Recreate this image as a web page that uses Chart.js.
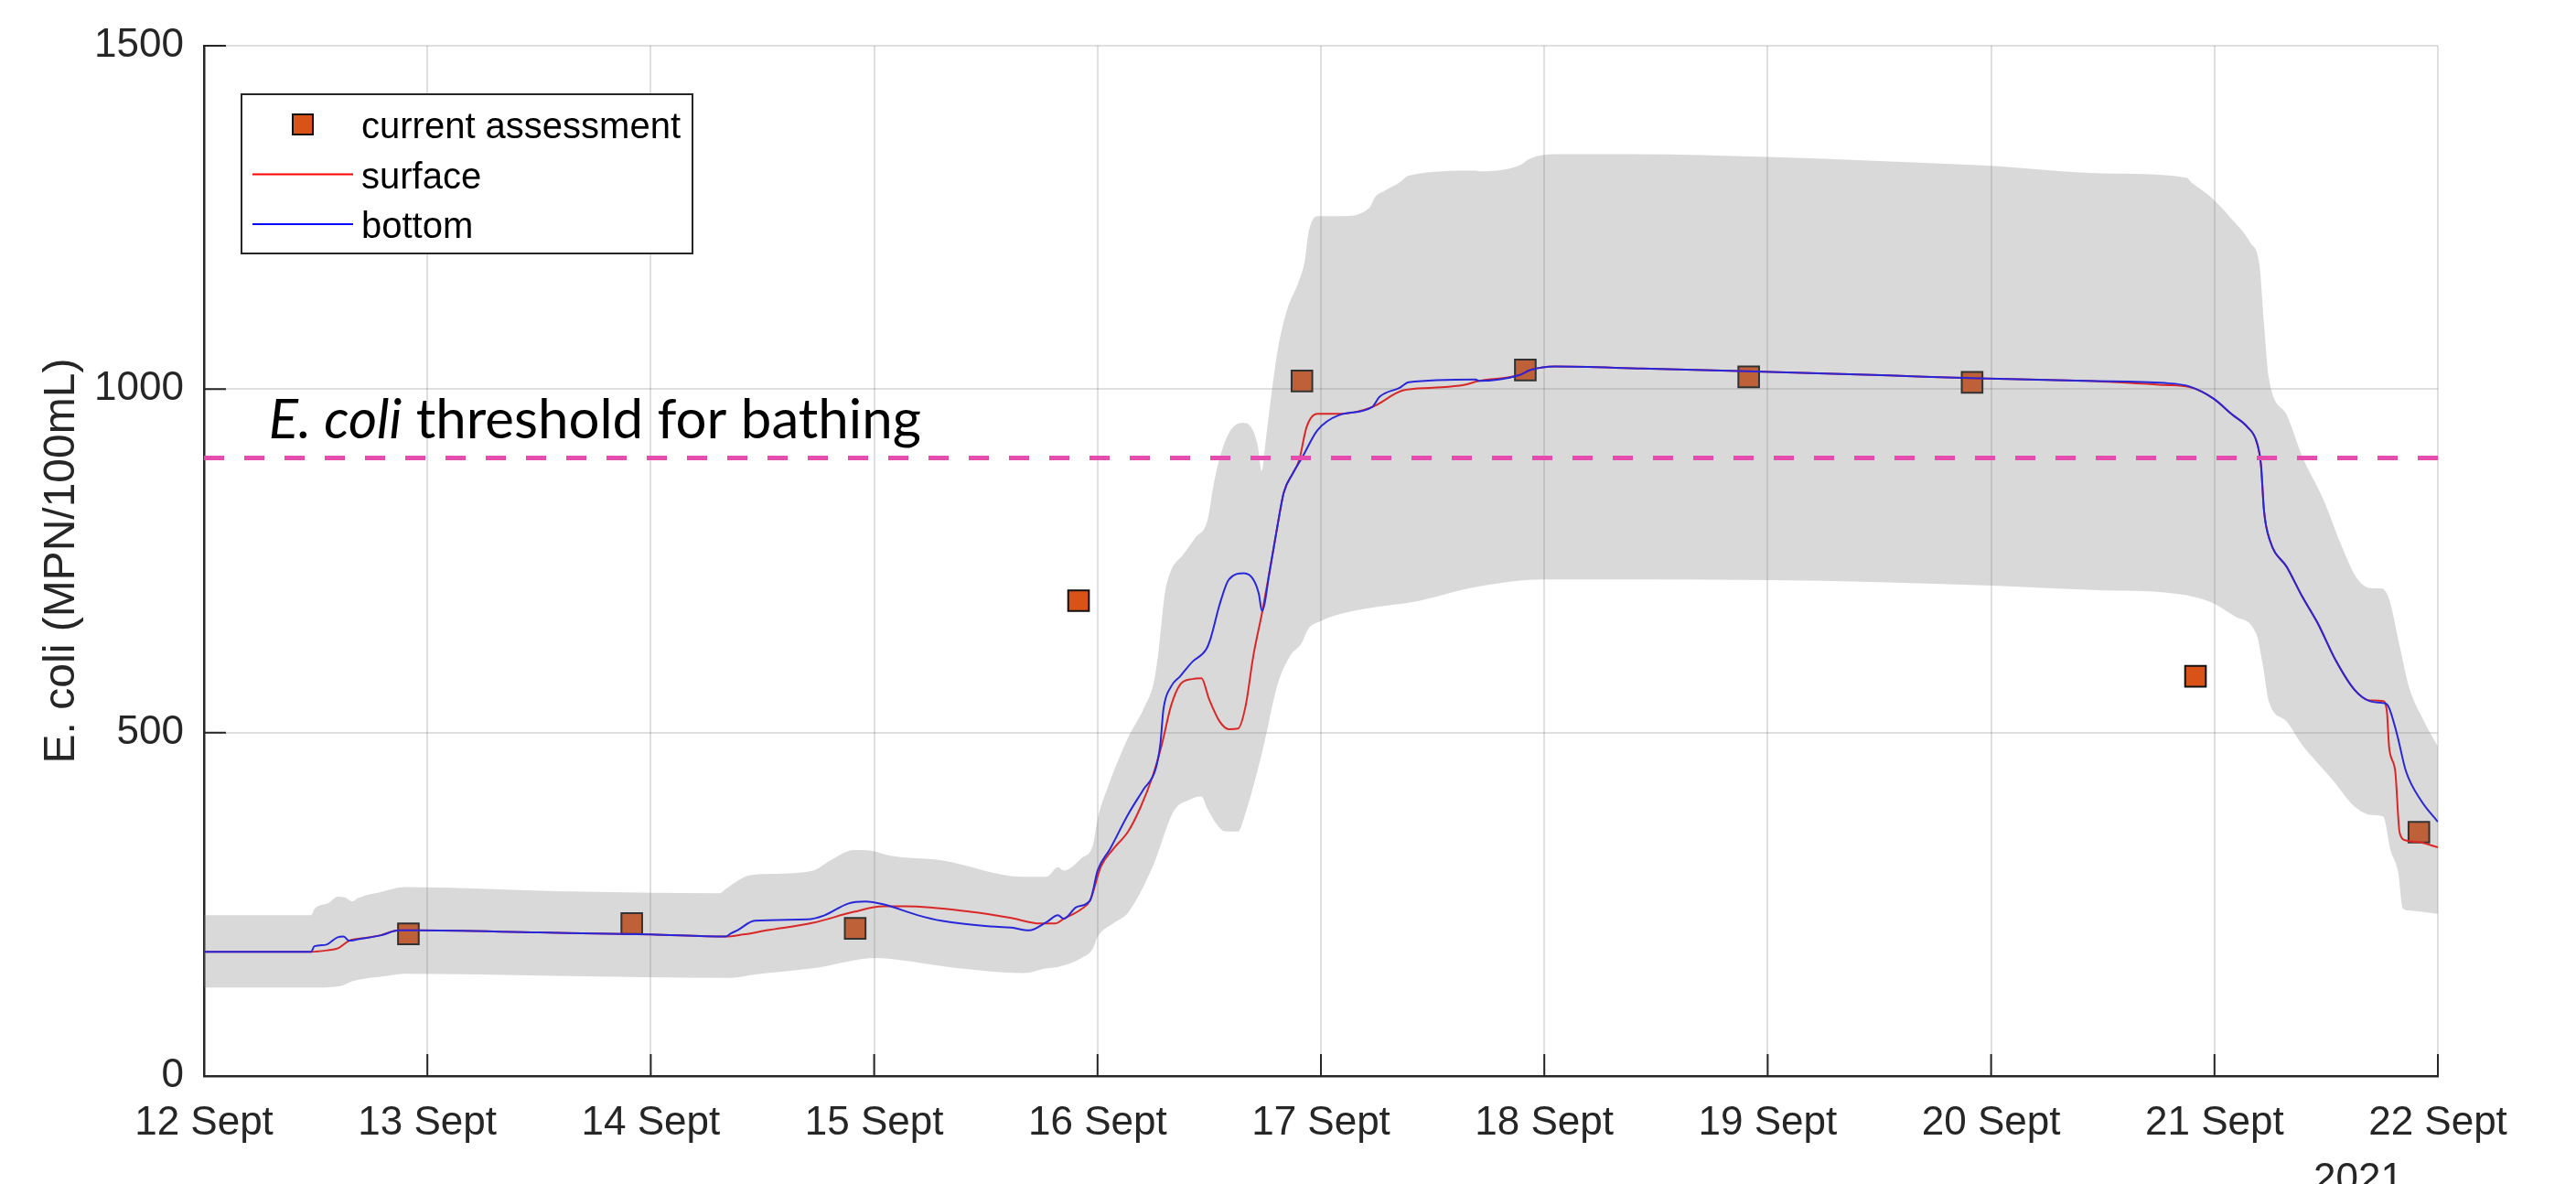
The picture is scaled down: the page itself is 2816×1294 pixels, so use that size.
<!DOCTYPE html>
<html>
<head>
<meta charset="utf-8">
<script src="https://cdn.jsdelivr.net/npm/chart.js@4.4.1/dist/chart.umd.min.js"></script>
<style>
  html, body { margin: 0; padding: 0; background: #fff; overflow: hidden; }
  #wrap { width: 2816px; height: 1294px; position: relative; }
</style>
</head>
<body>
<div id="wrap"><canvas id="chart"></canvas></div>
<script>
// x values are days since 12 Sept 2021 00:00
const dayLabels = ['12 Sept', '13 Sept', '14 Sept', '15 Sept', '16 Sept', '17 Sept',
  '18 Sept', '19 Sept', '20 Sept', '21 Sept', '22 Sept'];
const yearLabel = '2021';
const threshold = 900;

const assessDays = [0.915, 1.915, 2.915, 3.915, 4.915, 5.915, 6.915, 7.915, 8.915, 9.915];
const assessValues = [207, 222, 215, 692, 1012, 1028, 1018, 1010, 582, 355];

const surfaceDays = [0, 0.48, 0.55, 0.6, 0.65, 0.72, 0.79, 0.87, 0.95, 1.5, 2.0, 2.335, 2.413, 2.518,
  2.726, 2.909, 3.04, 3.144, 3.432, 3.614, 3.745, 3.81, 3.849, 3.928, 3.967, 4.015, 4.069, 4.137,
  4.192, 4.247, 4.288, 4.329, 4.37, 4.424, 4.465, 4.499, 4.547, 4.588, 4.629, 4.663, 4.697, 4.738,
  4.772, 4.807, 4.834, 4.875, 4.902, 4.936, 4.984, 5.086, 5.229, 5.366, 5.502, 5.639, 5.707, 5.884,
  5.939, 6.048, 6.44, 6.91, 7.54, 7.91, 8.43, 8.778, 8.888, 8.997, 9.079, 9.147, 9.188, 9.208,
  9.222, 9.249, 9.324, 9.393, 9.461, 9.543, 9.625, 9.693, 9.755, 9.772, 9.782, 9.809, 9.829,
  9.857, 9.925, 10];
const surfaceValues = [181, 181, 183, 186, 197, 201, 205, 212, 212, 209, 206, 203, 206, 212,
  223, 239, 247, 247, 239, 230, 222, 222, 229, 243, 256, 305, 330, 356,
  391, 437, 483, 539, 570, 578, 579, 549, 516, 505, 506, 539, 611, 677,
  738, 804, 850, 878, 896, 945, 964, 964, 974, 998, 1002, 1006, 1012, 1020,
  1028, 1033, 1030, 1026, 1020, 1016, 1012, 1006, 1003, 986, 963, 945, 924, 890,
  822, 779, 741, 698, 660, 605, 563, 547, 546, 530, 478, 444, 354,
  343, 340, 333];

const bottomDays = [0, 0.48, 0.494, 0.545, 0.598, 0.625, 0.65, 0.689, 0.794, 0.872, 0.95, 1.5, 2.0,
  2.335, 2.36, 2.387, 2.465, 2.7, 2.778, 2.883, 2.961, 3.04, 3.197, 3.301, 3.51, 3.614, 3.693,
  3.771, 3.823, 3.849, 3.905, 3.967, 4.001, 4.055, 4.137, 4.205, 4.26, 4.281, 4.295, 4.329, 4.37,
  4.424, 4.486, 4.506, 4.547, 4.588, 4.656, 4.697, 4.722, 4.736, 4.772, 4.807, 4.834, 4.875,
  4.915, 4.984, 5.079, 5.229, 5.263, 5.352, 5.393, 5.693, 5.707, 5.884, 5.939, 6.048, 6.44,
  6.91, 7.54, 7.91, 8.43, 8.778, 8.888, 8.997, 9.079, 9.147, 9.188, 9.208, 9.222, 9.249, 9.324,
  9.393, 9.461, 9.543, 9.625, 9.693, 9.755, 9.775, 9.816, 9.857, 9.925, 10];
const bottomValues = [181, 181, 189, 191, 202, 203, 197, 199, 205, 212, 212, 209, 206,
  203, 208, 212, 226, 228, 234, 251, 254, 250, 234, 226, 218, 216, 212,
  224, 234, 229, 246, 256, 300, 330, 381, 417, 447, 483, 534, 567, 582,
  603, 621, 637, 687, 723, 732, 723, 702, 677, 738, 804, 850, 878,
  900, 940, 962, 974, 989, 1002, 1010, 1014, 1012, 1020, 1028, 1033, 1030,
  1026, 1020, 1016, 1012, 1009, 1004, 986, 963, 945, 924, 890, 822, 779, 741,
  698, 660, 605, 563, 546, 543, 540, 499, 444, 401, 370];

const bandUpperDays = [0, 0.48, 0.494, 0.559, 0.598, 0.637, 0.663, 0.689, 0.794, 0.898, 1.577,
  2.309, 2.335, 2.439, 2.518, 2.726, 2.805, 2.909, 2.988, 3.066, 3.301, 3.667, 3.771, 3.823,
  3.849, 3.928, 3.98, 4.001, 4.042, 4.137, 4.205, 4.253, 4.274, 4.301, 4.329, 4.383, 4.438,
  4.492, 4.52, 4.547, 4.588, 4.649, 4.69, 4.717, 4.735, 4.752, 4.779, 4.806, 4.847, 4.902,
  4.929, 4.943, 4.984, 5.093, 5.216, 5.243, 5.284, 5.352, 5.393, 5.693, 5.707, 5.884, 5.939,
  6.048, 6.4, 7.0, 7.5, 8.0, 8.505, 8.874, 8.901, 8.983, 9.079, 9.161, 9.202, 9.222, 9.243,
  9.324, 9.393, 9.488, 9.57, 9.639, 9.706, 9.747, 9.782, 9.829, 9.87, 9.939, 10];
const bandUpperValues = [234, 234, 243, 252, 261, 259, 254, 259, 268, 275, 269,
  266, 272, 292, 294, 299, 314, 329, 328, 321, 314, 290, 290, 304,
  299, 317, 337, 375, 417, 493, 534, 575, 621, 702, 736, 759, 784,
  809, 862, 900, 936, 951, 943, 918, 881, 923, 994, 1056, 1114, 1158,
  1189, 1225, 1252, 1252, 1264, 1280, 1289, 1301, 1311, 1318, 1317, 1325, 1336,
  1342, 1342, 1338, 1332, 1325, 1314, 1308, 1300, 1280, 1247, 1213, 1179, 1094, 1017,
  962, 902, 839, 771, 724, 710, 710, 694, 626, 567, 516, 480];

const bandLowerDays = [0, 0.507, 0.611, 0.663, 0.82, 0.898, 1.577, 2.361, 2.465, 2.726, 3.013,
  3.092, 3.38, 3.667, 3.771, 3.823, 3.928, 3.98, 4.001, 4.07, 4.137, 4.247, 4.342, 4.41, 4.465,
  4.492, 4.547, 4.574, 4.629, 4.656, 4.738, 4.806, 4.861, 4.915, 4.943, 4.997, 5.079, 5.23,
  5.41, 5.71, 6.0, 7.0, 8.0, 8.505, 8.778, 8.983, 9.092, 9.188, 9.215, 9.243, 9.324, 9.393,
  9.461, 9.529, 9.625, 9.706, 9.755, 9.788, 9.823, 9.843, 9.87, 10];
const bandLowerValues = [129, 129, 131, 138, 146, 149, 146, 143, 148, 157, 172,
  170, 157, 150, 157, 159, 172, 186, 203, 222, 238, 305, 386, 402, 407,
  389, 361, 356, 356, 376, 473, 570, 611, 631, 651, 662, 672, 682,
  690, 713, 723, 722, 714, 707, 704, 690, 669, 643, 601, 546, 516, 482,
  456, 431, 393, 380, 378, 329, 295, 244, 241, 236];

const AXIS = '#262626';
const FONT = '"Liberation Sans", Arial, Helvetica, sans-serif';
const NOTE_FONT = 'Lato, "Open Sans", sans-serif';

function toPoints(xs, ys) {
  return xs.map((x, i) => ({ x, y: ys[i] }));
}

const decor = {
  id: 'decor',
  afterDraw(chart) {
    const { ctx, chartArea: a, scales: { x, y } } = chart;
    ctx.save();

    // inward tick marks
    ctx.strokeStyle = AXIS;
    ctx.lineWidth = 2;
    ctx.beginPath();
    x.ticks.forEach(t => {
      const px = x.getPixelForValue(t.value);
      ctx.moveTo(px, a.bottom);
      ctx.lineTo(px, a.bottom - 24);
    });
    y.ticks.forEach(t => {
      const py = y.getPixelForValue(t.value);
      ctx.moveTo(a.left, py);
      ctx.lineTo(a.left + 24, py);
    });
    ctx.stroke();

    // threshold label
    const tx = x.getPixelForValue(0.29);
    const ty = y.getPixelForValue(threshold) - 21;
    ctx.fillStyle = '#000';
    ctx.textAlign = 'left';
    ctx.textBaseline = 'alphabetic';
    ctx.font = 'italic 60px ' + NOTE_FONT;
    ctx.fillText('E. coli', tx, ty);
    const w = ctx.measureText('E. coli').width;
    ctx.font = '60px ' + NOTE_FONT;
    ctx.fillText(' threshold for bathing', tx + w, ty);

    // year under last tick
    ctx.fillStyle = AXIS;
    ctx.textAlign = 'center';
    ctx.font = '44px ' + FONT;
    ctx.fillText(yearLabel, x.getPixelForValue(10) - 87, 1302);

    // legend box
    const lx = a.left + 41, ly = a.top + 53, lw = 493, lh = 174;
    ctx.fillStyle = '#fff';
    ctx.fillRect(lx, ly, lw, lh);
    ctx.strokeStyle = AXIS;
    ctx.lineWidth = 2;
    ctx.strokeRect(lx, ly, lw, lh);
    ctx.font = '40px ' + FONT;
    ctx.textAlign = 'left';
    ctx.textBaseline = 'middle';
    chart.data.datasets.slice(0, 3).forEach((ds, i) => {
      const cy = ly + 33 + i * 54.5;
      if (ds.showLine) {
        ctx.strokeStyle = ds.borderColor;
        ctx.lineWidth = 2;
        ctx.beginPath();
        ctx.moveTo(lx + 12, cy);
        ctx.lineTo(lx + 122, cy);
        ctx.stroke();
      } else {
        ctx.fillStyle = ds.backgroundColor;
        ctx.fillRect(lx + 56, cy - 11, 22, 22);
        ctx.strokeStyle = ds.borderColor;
        ctx.lineWidth = 2;
        ctx.strokeRect(lx + 56, cy - 11, 22, 22);
      }
      ctx.fillStyle = '#000';
      ctx.fillText(ds.label, lx + 131, cy + 4);
    });
    ctx.restore();
  }
};

new Chart(document.getElementById('chart'), {
  type: 'scatter',
  data: {
    datasets: [
      {
        label: 'current assessment',
        data: toPoints(assessDays, assessValues),
        pointStyle: 'rect',
        pointRadius: 16,
        pointHoverRadius: 16,
        backgroundColor: '#D95319',
        borderColor: '#111111',
        borderWidth: 2,
        order: 5
      },
      {
        label: 'surface',
        data: toPoints(surfaceDays, surfaceValues),
        showLine: true,
        borderColor: '#ff0000',
        borderWidth: 2,
        pointRadius: 0,
        cubicInterpolationMode: 'monotone',
        order: 4
      },
      {
        label: 'bottom',
        data: toPoints(bottomDays, bottomValues),
        showLine: true,
        borderColor: '#0000ff',
        borderWidth: 2,
        pointRadius: 0,
        cubicInterpolationMode: 'monotone',
        order: 3
      },
      {
        label: 'band upper',
        data: toPoints(bandUpperDays, bandUpperValues),
        showLine: true,
        borderColor: 'transparent',
        borderWidth: 1,
        pointRadius: 0,
        cubicInterpolationMode: 'monotone',
        order: 2
      },
      {
        label: 'band lower',
        data: toPoints(bandLowerDays, bandLowerValues),
        showLine: true,
        borderColor: 'transparent',
        borderWidth: 1,
        pointRadius: 0,
        fill: '-1',
        backgroundColor: 'rgba(128,128,128,0.3)',
        cubicInterpolationMode: 'monotone',
        order: 2
      },
      {
        label: 'threshold',
        data: [{ x: 0, y: threshold }, { x: 10, y: threshold }],
        showLine: true,
        borderColor: '#E64CAE',
        borderWidth: 5,
        borderDash: [22, 22],
        pointRadius: 0,
        order: 1
      }
    ]
  },
  options: {
    responsive: true,
    maintainAspectRatio: false,
    animation: false,
    events: [],
    layout: { padding: { top: 50, right: 151, bottom: 0, left: 0 } },
    plugins: {
      legend: { display: false },
      tooltip: { enabled: false }
    },
    scales: {
      x: {
        type: 'linear',
        min: 0,
        max: 10,
        ticks: {
          stepSize: 1,
          autoSkip: false,
          maxRotation: 0,
          padding: 25,
          color: AXIS,
          font: { family: FONT, size: 44 },
          callback: v => dayLabels[Math.round(v)]
        },
        grid: { color: 'rgba(38,38,38,0.15)', lineWidth: 2, drawTicks: false },
        border: { display: true, color: AXIS, width: 2.5 },
        afterFit: s => { s.height = 118; s.paddingLeft = 0; s.paddingRight = 0; }
      },
      y: {
        min: 0,
        max: 1500,
        ticks: {
          stepSize: 500,
          padding: 22,
          color: AXIS,
          font: { family: FONT, size: 44 },
          callback: v => String(v)
        },
        grid: { color: 'rgba(38,38,38,0.15)', lineWidth: 2, drawTicks: false },
        border: { display: true, color: AXIS, width: 2.5 },
        title: {
          display: true,
          text: 'E. coli (MPN/100mL)',
          color: AXIS,
          font: { family: FONT, size: 48 },
          padding: { top: 39, bottom: 0 }
        },
        afterFit: s => { s.width = 223; s.paddingTop = 0; s.paddingBottom = 0; }
      }
    }
  },
  plugins: [decor]
});
</script>
</body>
</html>
